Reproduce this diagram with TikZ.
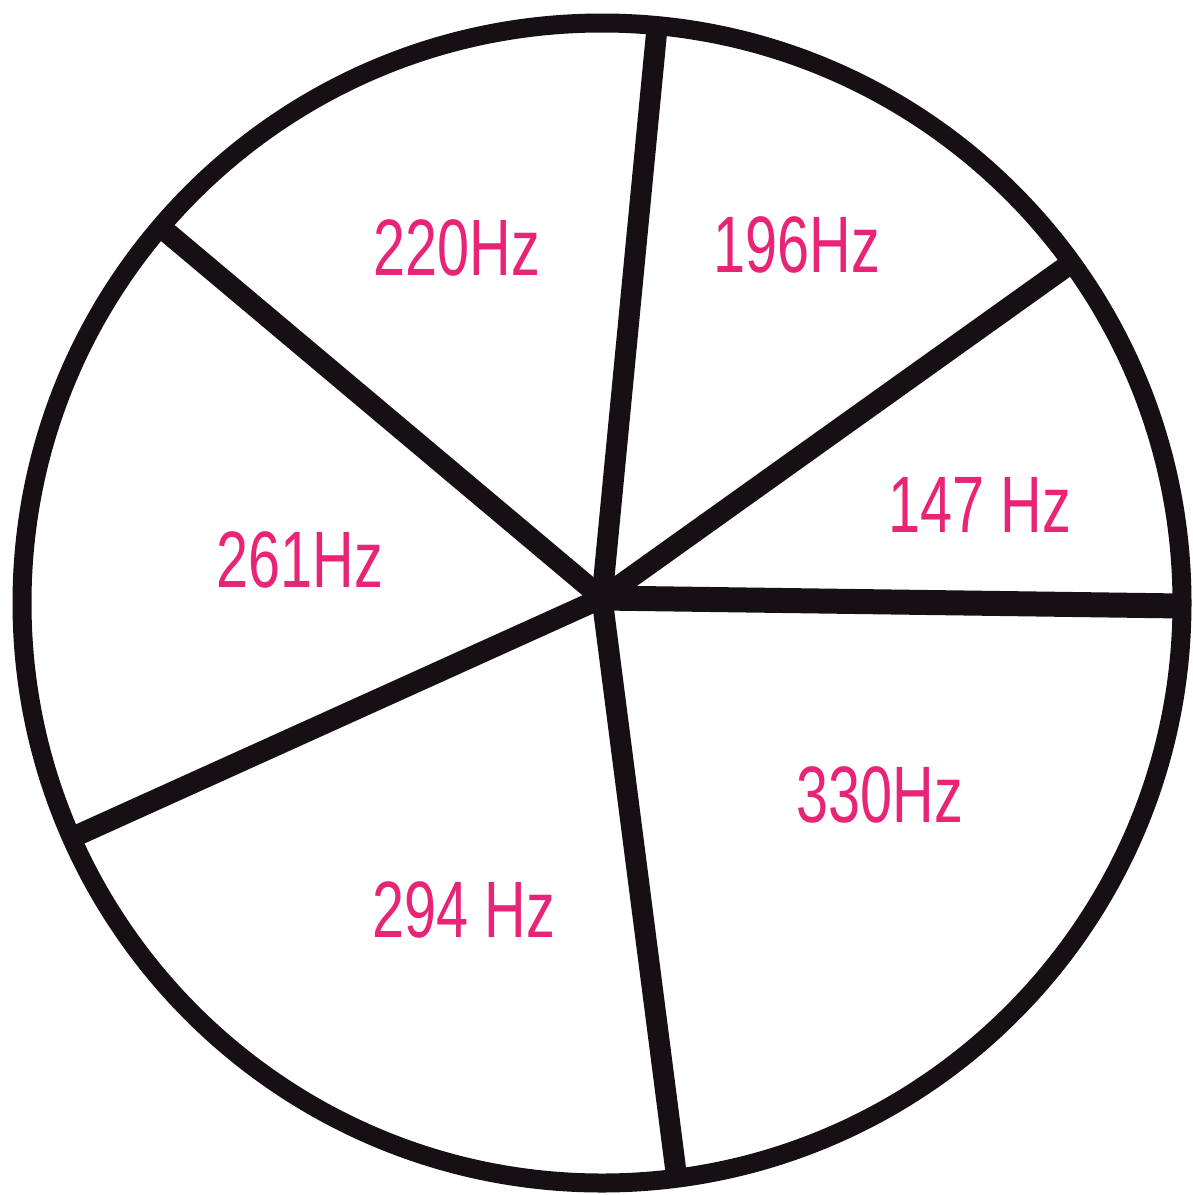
\documentclass[tikz,border=0pt]{standalone}
\usepackage{fontspec}
\setmainfont{Liberation Sans}
\definecolor{pinkink}{RGB}{232,36,118}
\definecolor{ink}{RGB}{22,16,20}
\begin{document}
\begin{tikzpicture}[x=0.5pt,y=0.5pt,
  rim/.style={draw=ink,line width=9.5pt},
  spoke/.style={draw=ink,line width=10.5pt,line cap=round},
  freq/.style={text=pinkink,font=\fontsize{40}{42}\selectfont,xscale=0.72,inner sep=0pt}]
\fill[white] (0,0) rectangle (1193,-1195);
\useasboundingbox (0,0) rectangle (1193,-1195);
% hub and spoke ends
\coordinate (hub) at (602,-598);
\coordinate (eT) at (657,-28);
\coordinate (eUR) at (1067,-266);
\coordinate (eR) at (1182,-606);
\coordinate (eB) at (676,-1172);
\coordinate (eLL) at (80,-834);
\coordinate (eUL) at (163,-229);
% spokes
\draw[spoke] (hub) -- (eT);
\draw[spoke] (hub) -- (eUR);
\draw[spoke,line width=12.5pt,line cap=butt] (hub) -- (eR);
\draw[spoke] (hub) -- (eB);
\draw[spoke] (hub) -- (eLL);
\draw[spoke] (hub) -- (eUL);
% rim
\draw[rim] (602,-603) circle [radius=580];
% labels
\node[freq] (l220) at (457,-248) {220Hz};
\node[freq] (l196) at (797,-245) {196Hz};
\node[freq] (l147) at (980,-505) {147 Hz};
\node[freq] (l261) at (300,-560) {261Hz};
\node[freq] (l330) at (880,-795) {330Hz};
\node[freq] (l294) at (464,-910) {294 Hz};
\end{tikzpicture}
\end{document}
